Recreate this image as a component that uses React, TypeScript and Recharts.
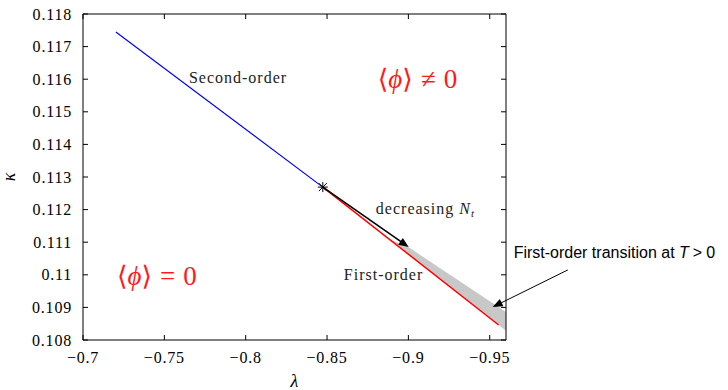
import {
  ComposedChart, Line, Area, Scatter, XAxis, YAxis, ReferenceLine, ReferenceDot,
} from 'recharts';

const serif = '"Liberation Serif", "DejaVu Serif", serif';
const sans = '"Liberation Sans", Arial, sans-serif';

const xTicks = [-0.95, -0.9, -0.85, -0.8, -0.75, -0.7];
const xTickLabels = ['−0.95', '−0.9', '−0.85', '−0.8', '−0.75', '−0.7'];
const yTicks = [0.108, 0.109, 0.11, 0.111, 0.112, 0.113, 0.114, 0.115, 0.116, 0.117, 0.118];
const yTickLabels = ['0.108', '0.109', '0.11', '0.111', '0.112', '0.113', '0.114', '0.115', '0.116', '0.117', '0.118'];

// second-order line (blue)
const secondLambda = [-0.7202, -0.8474];
const secondKappa = [0.11745, 0.11269];
// first-order line (red)
const firstLambda = [-0.8474, -0.9555];
const firstKappa = [0.11269, 0.10846];
// first-order transition at T > 0 (grey band)
const bandLambda = [-0.888, -0.9, -0.96];
const bandLow = [0.1111, 0.11063, 0.10828];
const bandHigh = [0.1111, 0.11085, 0.10886];
// end point of the second-order line
const starPoint = [{ lambda: -0.8474, kappa: 0.11269 }];

// arrows [from, to]
const arrowNt = [{ x: -0.8474, y: 0.11269 }, { x: -0.9002, y: 0.11085 }];
const arrowT = [{ x: -0.998, y: 0.11015 }, { x: -0.9518, y: 0.10901 }];

const allLambda = Array.from(new Set([...secondLambda, ...firstLambda, ...bandLambda])).sort((a, b) => b - a);
const rows = allLambda.map((l) => {
  const s = secondLambda.indexOf(l);
  const f = firstLambda.indexOf(l);
  const b = bandLambda.indexOf(l);
  return {
    lambda: l,
    second: s >= 0 ? secondKappa[s] : null,
    first: f >= 0 ? firstKappa[f] : null,
    band: b >= 0 ? [bandLow[b], bandHigh[b]] : [null, null],
  };
});

const tickFont = { fontFamily: serif, fontSize: 16, letterSpacing: 0.8 };

const BottomTick = ({ x, y, payload }: any) => {
  const i = xTicks.indexOf(payload.value);
  return (
    <g>
      <line x1={x} x2={x} y1={y} y2={y - 5} stroke="#000" />
      <text x={x} y={y + 23} textAnchor="middle" style={tickFont} fill="#000">
        {xTickLabels[i]}
      </text>
    </g>
  );
};

const TopTick = ({ x, y }: any) => <line x1={x} x2={x} y1={y} y2={y + 5} stroke="#000" />;

const LeftTick = ({ x, y, payload }: any) => {
  const i = yTicks.indexOf(payload.value);
  return (
    <g>
      <line x1={x} x2={x + 5} y1={y} y2={y} stroke="#000" />
      <text x={x - 11} y={y + 5.5} textAnchor="end" style={tickFont} fill="#000">
        {yTickLabels[i]}
      </text>
    </g>
  );
};

const RightTick = ({ x, y }: any) => <line x1={x} x2={x - 5} y1={y} y2={y} stroke="#000" />;

const ArrowShape = (head: number, width: number) => (p: any) => {
  const { x1, y1, x2, y2 } = p;
  const a = Math.atan2(y2 - y1, x2 - x1);
  const c = Math.cos(a);
  const s = Math.sin(a);
  const bx = x2 - head * c;
  const by = y2 - head * s;
  return (
    <g>
      <line x1={x1} y1={y1} x2={bx + c} y2={by + s} stroke="#000" strokeWidth={width} />
      <polygon points={`${x2},${y2} ${bx - s * 4},${by + c * 4} ${bx + s * 4},${by - c * 4}`} fill="#000" />
    </g>
  );
};

const StarShape = ({ cx, cy }: any) => (
  <g stroke="#000" strokeWidth={1}>
    <line x1={cx - 5} x2={cx + 5} y1={cy} y2={cy} />
    <line x1={cx} x2={cx} y1={cy - 5} y2={cy + 5} />
    <line x1={cx - 4} x2={cx + 4} y1={cy - 4} y2={cy + 4} />
    <line x1={cx - 4} x2={cx + 4} y1={cy + 4} y2={cy - 4} />
  </g>
);

const TextAt = (children: any, style: any, fill: string) => ({ cx, cy }: any) => (
  <text x={cx} y={cy} style={style} fill={fill}>{children}</text>
);

const noteStyle = { fontFamily: serif, fontSize: 16, letterSpacing: 1 };
const phaseStyle = { fontFamily: serif, fontSize: 27 };

export default function App() {
  return (
    <div style={{ position: 'absolute', left: 0, top: 0, background: '#fff' }}>
      <ComposedChart width={728} height={390} data={rows} margin={{ top: 13, right: 221, bottom: 0, left: 0 }}>
        <XAxis
          dataKey="lambda" type="number" domain={[-0.96, -0.7]} reversed allowDataOverflow
          ticks={xTicks} interval={0} tickSize={0} tickMargin={0} tickLine={false}
          axisLine={{ stroke: '#000' }} height={50} tick={<BottomTick />}
          label={{
            content: ({ viewBox }: any) => (
              <text x={viewBox.x + viewBox.width / 2} y={viewBox.y + 47} textAnchor="middle"
                style={{ fontFamily: serif, fontStyle: 'italic', fontSize: 18 }}>λ</text>
            ),
          }}
        />
        <XAxis
          xAxisId="top" orientation="top" dataKey="lambda" type="number" domain={[-0.96, -0.7]} reversed allowDataOverflow
          ticks={xTicks} interval={0} tickSize={0} tickMargin={0} tickLine={false}
          axisLine={{ stroke: '#000' }} height={1} tick={<TopTick />}
        />
        <YAxis
          type="number" domain={[0.108, 0.118]} allowDataOverflow ticks={yTicks} interval={0}
          tickSize={0} tickMargin={0} tickLine={false} axisLine={{ stroke: '#000' }} width={83} tick={<LeftTick />}
          label={{
            content: ({ viewBox }: any) => {
              const cx = viewBox.x + 15;
              const cy = viewBox.y + viewBox.height / 2;
              return (
                <text x={cx} y={cy} transform={`rotate(-90 ${cx} ${cy})`} textAnchor="middle"
                  style={{ fontFamily: serif, fontStyle: 'italic', fontSize: 18 }}>κ</text>
              );
            },
          }}
        />
        <YAxis
          yAxisId="right" orientation="right" type="number" domain={[0.108, 0.118]} allowDataOverflow ticks={yTicks} interval={0}
          tickSize={0} tickMargin={0} tickLine={false} axisLine={{ stroke: '#000' }} width={1} tick={<RightTick />}
        />

        <Area dataKey="band" stroke="none" fill="#c8c8c8" fillOpacity={1} connectNulls isAnimationActive={false} />
        <Line dataKey="first" stroke="#ff0000" strokeWidth={1.5} dot={false} connectNulls isAnimationActive={false} />
        <Line dataKey="second" stroke="#0000ff" strokeWidth={1.2} dot={false} connectNulls isAnimationActive={false} />

        <ReferenceLine segment={arrowNt} ifOverflow="visible" shape={ArrowShape(10, 1.6)} />
        <ReferenceLine segment={arrowT} ifOverflow="visible" shape={ArrowShape(10, 1)} />

        <Scatter data={starPoint} dataKey="kappa" shape={<StarShape />} isAnimationActive={false} />

        <ReferenceDot x={-0.7651} y={0.11588} r={0} ifOverflow="visible"
          shape={TextAt('Second-order', noteStyle, '#222')} />
        <ReferenceDot x={-0.8603} y={0.10984} r={0} ifOverflow="visible"
          shape={TextAt('First-order', noteStyle, '#222')} />
        <ReferenceDot x={-0.88} y={0.11187} r={0} ifOverflow="visible"
          shape={TextAt(
            <>
              <tspan>decreasing </tspan>
              <tspan fontStyle="italic">N</tspan>
              <tspan fontStyle="italic" fontSize={11} dy={3}>t</tspan>
            </>,
            noteStyle, '#222',
          )} />
        <ReferenceDot x={-0.8812} y={0.11573} r={0} ifOverflow="visible"
          shape={TextAt(
            <>
              <tspan>⟨</tspan>
              <tspan fontStyle="italic">ϕ</tspan>
              <tspan>⟩</tspan>
              <tspan dx={8}>≠</tspan>
              <tspan dx={8}>0</tspan>
            </>,
            phaseStyle, '#ff1a1a',
          )} />
        <ReferenceDot x={-0.7209} y={0.10969} r={0} ifOverflow="visible"
          shape={TextAt(
            <>
              <tspan>⟨</tspan>
              <tspan fontStyle="italic">ϕ</tspan>
              <tspan>⟩</tspan>
              <tspan dx={8}>=</tspan>
              <tspan dx={8}>0</tspan>
            </>,
            phaseStyle, '#ff1a1a',
          )} />
        <ReferenceDot x={-0.9647} y={0.11052} r={0} ifOverflow="visible"
          shape={TextAt(
            <>
              <tspan>First-order transition at </tspan>
              <tspan fontStyle="italic">T</tspan>
              <tspan dx={4}>&gt;</tspan>
              <tspan dx={4}>0</tspan>
            </>,
            { fontFamily: sans, fontSize: 16 }, '#000',
          )} />
      </ComposedChart>
    </div>
  );
}
